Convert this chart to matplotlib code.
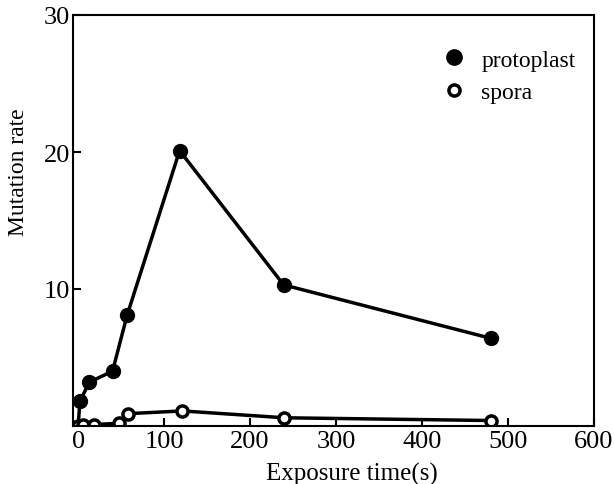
import matplotlib.pyplot as plt
from matplotlib.lines import Line2D

proto_t = [0, 2, 13, 40, 57, 118, 239, 480]
proto_rate = [0, 1.8, 3.2, 4.0, 8.1, 20.1, 10.3, 6.4]

spora_t = [0, 6, 18, 47, 58, 121, 240, 480]
spora_rate = [0, 0.1, 0.1, 0.2, 0.9, 1.1, 0.6, 0.4]

xticks = [0, 100, 200, 300, 400, 500, 600]
yticks = [10, 20, 30]

plt.rcParams['font.family'] = 'Liberation Serif'

fig = plt.figure(figsize=(6.14, 4.85), dpi=100)
ax = fig.add_axes([73 / 614, 58 / 485, 521 / 614, 411 / 485])

ax.plot(proto_t[1:], proto_rate[1:], color='black', lw=2.5, marker='o',
        markersize=10)
ax.plot(proto_t[:2], proto_rate[:2], color='black', lw=2.5)
ax.plot(spora_t, spora_rate, color='black', lw=2.5, marker='o',
        markersize=8, markerfacecolor='white', markeredgewidth=2.5)

ax.set_xlim(-6, 596)
ax.set_ylim(0, 30)
ax.set_xticks(xticks)
ax.set_yticks(yticks)
ax.tick_params(direction='in', length=6, width=1.5, labelsize=19)
ax.tick_params(axis='x', pad=3)
ax.tick_params(axis='y', pad=2)
for s in ax.spines.values():
    s.set_linewidth(1.5)

ax.set_xlabel('Exposure time(s)', fontsize=18, va='center', ha='center')
ax.set_ylabel('Mutation rate', fontsize=17, va='center', ha='center')
ax.xaxis.set_label_coords(0.535, -0.115)
ax.yaxis.set_label_coords(-0.105, 0.62)

handles = [
    Line2D([], [], ls='none', marker='o', color='black', markersize=11),
    Line2D([], [], ls='none', marker='o', color='black', markersize=8,
           markerfacecolor='white', markeredgewidth=2.5),
]
ax.legend(handles, ['protoplast', 'spora'], loc='upper left',
          bbox_to_anchor=(0.695, 0.94), frameon=False, fontsize=17,
          handlelength=0.8, handletextpad=0.75, labelspacing=0.45,
          borderaxespad=0)

fig.savefig('out.png', dpi=100)
